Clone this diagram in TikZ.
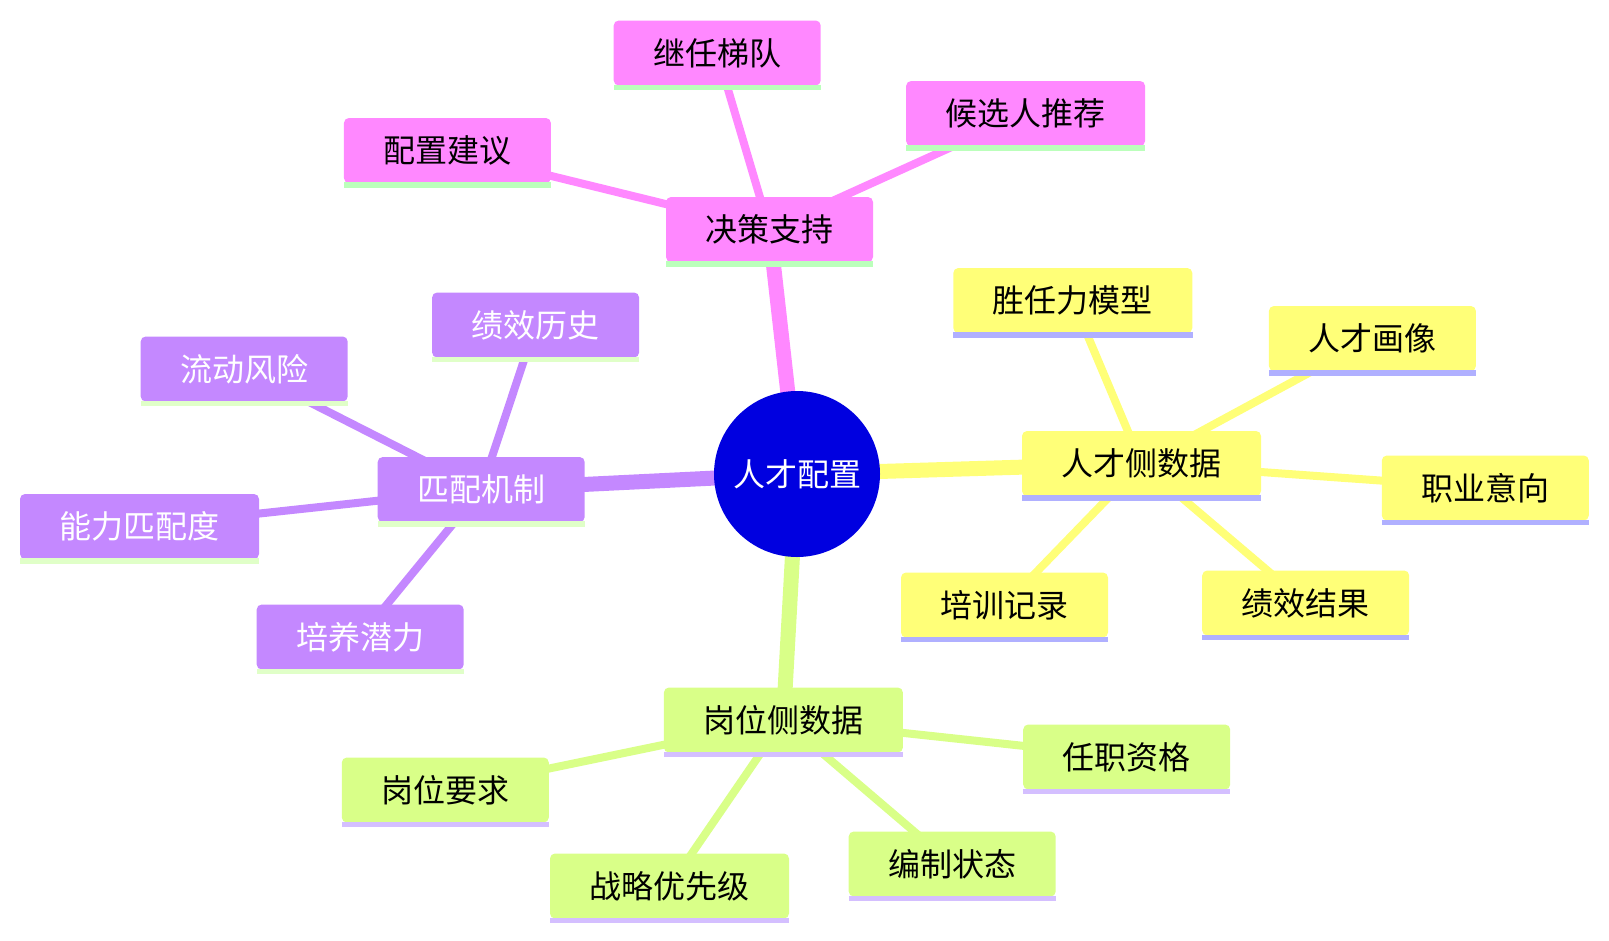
\documentclass[tikz,border=0pt]{standalone}
\usepackage{fontspec}
\setmainfont{Noto Sans CJK SC}
\pgfdeclarelayer{background}
\pgfsetlayers{background,main}
\definecolor{rootc}{HTML}{0000E0}
\definecolor{pinkc}{HTML}{FF88FF}
\definecolor{pinkl}{HTML}{BBFFBB}
\definecolor{yelc}{HTML}{FFFF78}
\definecolor{yell}{HTML}{B0B0FF}
\definecolor{grnc}{HTML}{D9FF88}
\definecolor{grnl}{HTML}{D4BFFF}
\definecolor{purc}{HTML}{C488FF}
\definecolor{purl}{HTML}{E0FFC8}
\tikzset{
  box/.style={rounded corners=5pt, inner xsep=39.5pt, inner ysep=0pt, minimum height=65pt, font=\fontsize{32}{37}\selectfont},
  pinkbox/.style={box, fill=pinkc, text=black},
  yelbox/.style={box, fill=yelc, text=black},
  grnbox/.style={box, fill=grnc, text=black},
  purbox/.style={box, fill=purc, text=white},
  rootnode/.style={circle, fill=rootc, text=white, minimum size=166pt, inner sep=0pt, font=\fontsize{32}{37}\selectfont},
  trunk/.style={line width=15pt},
  twig/.style={line width=8pt},
}
\newcommand{\uline}[2]{\fill[#2] ([yshift=1pt]#1.south west) rectangle ([yshift=-4.5pt]#1.south east);}
\begin{document}
\begin{tikzpicture}[x=1pt,y=-1pt]
\useasboundingbox (0,0) rectangle (1609,940);
\node[rootnode] (root) at (797,474) {人才配置};
% pink
\node[pinkbox] (jc) at (769.5,229.5) {决策支持};
\node[pinkbox] (jr) at (717.2,53) {继任梯队};
\node[pinkbox] (hx) at (1025.6,113.5) {候选人推荐};
\node[pinkbox] (pz) at (447.4,150.5) {配置建议};
% yellow
\node[yelbox] (rc) at (1141.5,463.5) {人才侧数据};
\node[yelbox] (sr) at (1072.8,300.5) {胜任力模型};
\node[yelbox] (hx2) at (1372.4,338.5) {人才画像};
\node[yelbox] (zy) at (1485.3,488) {职业意向};
\node[yelbox] (jx) at (1305.7,603) {绩效结果};
\node[yelbox] (px) at (1004.5,605) {培训记录};
% green
\node[grnbox] (gw) at (783.4,720) {岗位侧数据};
\node[grnbox] (rz) at (1126.7,757) {任职资格};
\node[grnbox] (yq) at (445.3,790) {岗位要求};
\node[grnbox] (bz) at (952.2,864) {编制状态};
\node[grnbox] (zl) at (669.5,886) {战略优先级};
% purple
\node[purbox] (pp) at (481.2,489.5) {匹配机制};
\node[purbox] (jl) at (535.6,325) {绩效历史};
\node[purbox] (ld) at (244.2,369) {流动风险};
\node[purbox] (nl) at (139.5,526.5) {能力匹配度};
\node[purbox] (py) at (360.2,637) {培养潜力};
\uline{jc}{pinkl}\uline{jr}{pinkl}\uline{hx}{pinkl}\uline{pz}{pinkl}
\uline{rc}{yell}\uline{sr}{yell}\uline{hx2}{yell}\uline{zy}{yell}\uline{jx}{yell}\uline{px}{yell}
\uline{gw}{grnl}\uline{rz}{grnl}\uline{yq}{grnl}\uline{bz}{grnl}\uline{zl}{grnl}
\uline{pp}{purl}\uline{jl}{purl}\uline{ld}{purl}\uline{nl}{purl}\uline{py}{purl}
\begin{pgfonlayer}{background}
\draw[trunk, pinkc] (root.center) -- (jc.center);
\draw[trunk, yelc] (root.center) -- (rc.center);
\draw[trunk, grnc] (root.center) -- (gw.center);
\draw[trunk, purc] (root.center) -- (pp.center);
\draw[twig, pinkc] (jc.center) -- (jr.center);
\draw[twig, pinkc] (jc.center) -- (hx.center);
\draw[twig, pinkc] (jc.center) -- (pz.center);
\draw[twig, yelc] (rc.center) -- (sr.center);
\draw[twig, yelc] (rc.center) -- (hx2.center);
\draw[twig, yelc] (rc.center) -- (zy.center);
\draw[twig, yelc] (rc.center) -- (jx.center);
\draw[twig, yelc] (rc.center) -- (px.center);
\draw[twig, grnc] (gw.center) -- (rz.center);
\draw[twig, grnc] (gw.center) -- (yq.center);
\draw[twig, grnc] (gw.center) -- (bz.center);
\draw[twig, grnc] (gw.center) -- (zl.center);
\draw[twig, purc] (pp.center) -- (jl.center);
\draw[twig, purc] (pp.center) -- (ld.center);
\draw[twig, purc] (pp.center) -- (nl.center);
\draw[twig, purc] (pp.center) -- (py.center);
\end{pgfonlayer}
\end{tikzpicture}
\end{document}
